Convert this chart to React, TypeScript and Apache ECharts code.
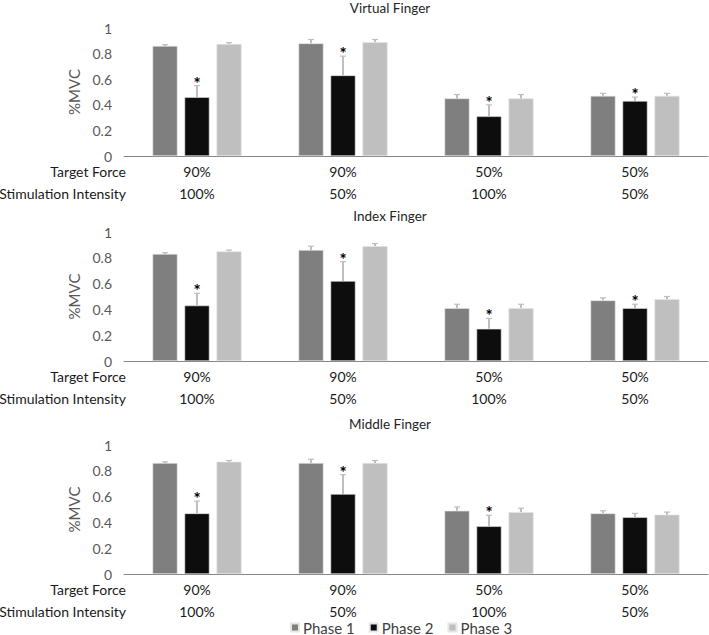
import React, { useEffect, useRef } from "react";
import * as echarts from "echarts";

const targetForce = ["90%", "90%", "50%", "50%"];
const stimIntensity = ["100%", "50%", "100%", "50%"];
const phaseNames = ["Phase 1", "Phase 2", "Phase 3"];
const panelTitles = ["Virtual Finger", "Index Finger", "Middle Finger"];

// Virtual finger
const virtualP1 = [0.86, 0.88, 0.45, 0.47];
const virtualP1Err = [0.01, 0.03, 0.03, 0.02];
const virtualP2 = [0.46, 0.63, 0.31, 0.43];
const virtualP2Err = [0.09, 0.15, 0.09, 0.03];
const virtualP3 = [0.875, 0.89, 0.45, 0.47];
const virtualP3Err = [0.01, 0.02, 0.03, 0.02];
const virtualStars = [true, true, true, true];

// Index finger
const indexP1 = [0.83, 0.86, 0.41, 0.47];
const indexP1Err = [0.01, 0.03, 0.03, 0.02];
const indexP2 = [0.43, 0.62, 0.25, 0.41];
const indexP2Err = [0.095, 0.15, 0.08, 0.03];
const indexP3 = [0.85, 0.89, 0.41, 0.48];
const indexP3Err = [0.01, 0.02, 0.03, 0.02];
const indexStars = [true, true, true, true];

// Middle finger
const middleP1 = [0.86, 0.86, 0.49, 0.47];
const middleP1Err = [0.01, 0.03, 0.03, 0.02];
const middleP2 = [0.47, 0.62, 0.37, 0.44];
const middleP2Err = [0.095, 0.15, 0.085, 0.03];
const middleP3 = [0.87, 0.86, 0.48, 0.46];
const middleP3Err = [0.01, 0.02, 0.03, 0.02];
const middleStars = [true, true, true, false];

const yTicks = [0, 0.2, 0.4, 0.6, 0.8, 1];

const panels = [
  { title: panelTitles[0], vals: [virtualP1, virtualP2, virtualP3], errs: [virtualP1Err, virtualP2Err, virtualP3Err], stars: virtualStars },
  { title: panelTitles[1], vals: [indexP1, indexP2, indexP3], errs: [indexP1Err, indexP2Err, indexP3Err], stars: indexStars },
  { title: panelTitles[2], vals: [middleP1, middleP2, middleP3], errs: [middleP1Err, middleP2Err, middleP3Err], stars: middleStars },
];

const COLORS = ["#7f7f7f", "#0d0d0d", "#bfbfbf"];
const FONT = "Lato, 'Open Sans', sans-serif";
const BAR_W = 25;
const BAR_GAP = 0.28;
const GRID_LEFT = 124;
const GRID_TOPS = [28, 232, 445];
const GRID_H = [128, 129, 129];
const TITLE_Y = [8, 216, 424];

export default function App() {
  const ref = useRef<HTMLDivElement>(null);
  useEffect(() => {
    if (!ref.current) return;
    const chart = echarts.init(ref.current, undefined, { renderer: "svg" });
    const grid: any[] = [];
    const xAxis: any[] = [];
    const yAxis: any[] = [];
    const series: any[] = [];
    const graphic: any[] = [];

    panels.forEach((p, gi) => {
      grid.push({ left: GRID_LEFT, right: 1, top: GRID_TOPS[gi], height: GRID_H[gi] });
      xAxis.push({
        type: "category",
        gridIndex: gi,
        data: targetForce.map((t, i) => `${t}\n${stimIntensity[i]}`),
        axisLine: { lineStyle: { color: "#868686", width: 1 } },
        axisTick: { show: false },
        axisLabel: { color: "#1a1a1a", fontSize: 14, fontFamily: FONT, lineHeight: 22, margin: 4, interval: 0 },
      });
      yAxis.push({
        type: "value",
        gridIndex: gi,
        min: 0,
        max: 1,
        interval: 0.2,
        name: "%MVC",
        nameLocation: "middle",
        nameRotate: 90,
        nameGap: 22,
        nameTextStyle: { color: "#595959", fontSize: 15, fontFamily: FONT },
        axisLine: { show: false },
        axisTick: { show: false },
        splitLine: { show: false },
        axisLabel: {
          color: "#595959",
          fontSize: 14,
          lineHeight: 14,
          fontFamily: FONT,
          margin: 12,
          formatter: (v: number) => (yTicks.includes(Math.round(v * 10) / 10) ? String(Math.round(v * 10) / 10) : ""),
        },
      });
      p.vals.forEach((vals, si) => {
        series.push({
          type: "bar",
          name: phaseNames[si],
          xAxisIndex: gi,
          yAxisIndex: gi,
          data: vals,
          barWidth: BAR_W,
          barGap: `${BAR_GAP * 100}%`,
          itemStyle: { color: COLORS[si], borderColor: "#e6e6e6", borderWidth: 0.6 },
          z: 2,
        });
      });
      const errData: any[] = [];
      p.vals.forEach((vals, si) => {
        vals.forEach((v, ci) => {
          errData.push([ci, v, p.errs[si][ci], si, si === 1 && p.stars[ci] ? 1 : 0]);
        });
      });
      series.push({
        type: "custom",
        name: "err" + gi,
        xAxisIndex: gi,
        yAxisIndex: gi,
        data: errData,
        z: 5,
        clip: false,
        renderItem: (params: any, api: any) => {
          const ci = api.value(0);
          const v = api.value(1);
          const e = api.value(2);
          const si = api.value(3);
          const star = api.value(4);
          const off = (si - 1) * BAR_W * (1 + BAR_GAP);
          const base = api.coord([ci, v]);
          const top = api.coord([ci, v + e]);
          const x = base[0] + off;
          const children: any[] = [
            { type: "line", shape: { x1: x, y1: base[1], x2: x, y2: top[1] }, style: { stroke: "#bfbfbf", lineWidth: 2 } },
            { type: "line", shape: { x1: x - 3, y1: top[1], x2: x + 3, y2: top[1] }, style: { stroke: "#bfbfbf", lineWidth: 1.2 } },
          ];
          if (star) {
            children.push({
              type: "text",
              style: { x, y: top[1] + 6, text: "*", fill: "#000", fontSize: 17, fontFamily: FONT, fontWeight: "bold", align: "center", verticalAlign: "bottom" },
            });
          }
          return { type: "group", children };
        },
      });
      const base = GRID_TOPS[gi] + GRID_H[gi];
      graphic.push(
        { type: "text", x: 390, y: TITLE_Y[gi], style: { text: p.title, fill: "#262626", fontSize: 13.5, fontFamily: FONT, align: "center", verticalAlign: "middle" } },
        { type: "text", x: 126, y: base + 15.5, style: { text: "Target Force", fill: "#1a1a1a", fontSize: 14, lineHeight: 14, fontFamily: FONT, align: "right", verticalAlign: "middle" } },
        { type: "text", x: 126, y: base + 37, style: { text: "Stimulation Intensity", fill: "#1a1a1a", fontSize: 14, lineHeight: 14, fontFamily: FONT, align: "right", verticalAlign: "middle" } }
      );
    });

    chart.setOption({
      animation: false,
      backgroundColor: "#ffffff",
      textStyle: { fontFamily: FONT },
      grid,
      xAxis,
      yAxis,
      series,
      graphic,
      legend: {
        data: phaseNames,
        top: 620,
        left: 290,
        padding: 0,
        icon: "rect",
        itemWidth: 8,
        itemHeight: 8,
        itemGap: 14,
        textStyle: { color: "#404040", fontSize: 15, fontFamily: FONT, padding: [0, 0, 0, -1] },
      },
    });
    return () => chart.dispose();
  }, []);
  return <div ref={ref} style={{ position: "fixed", left: 0, top: 0, width: 709, height: 635 }} />;
}
